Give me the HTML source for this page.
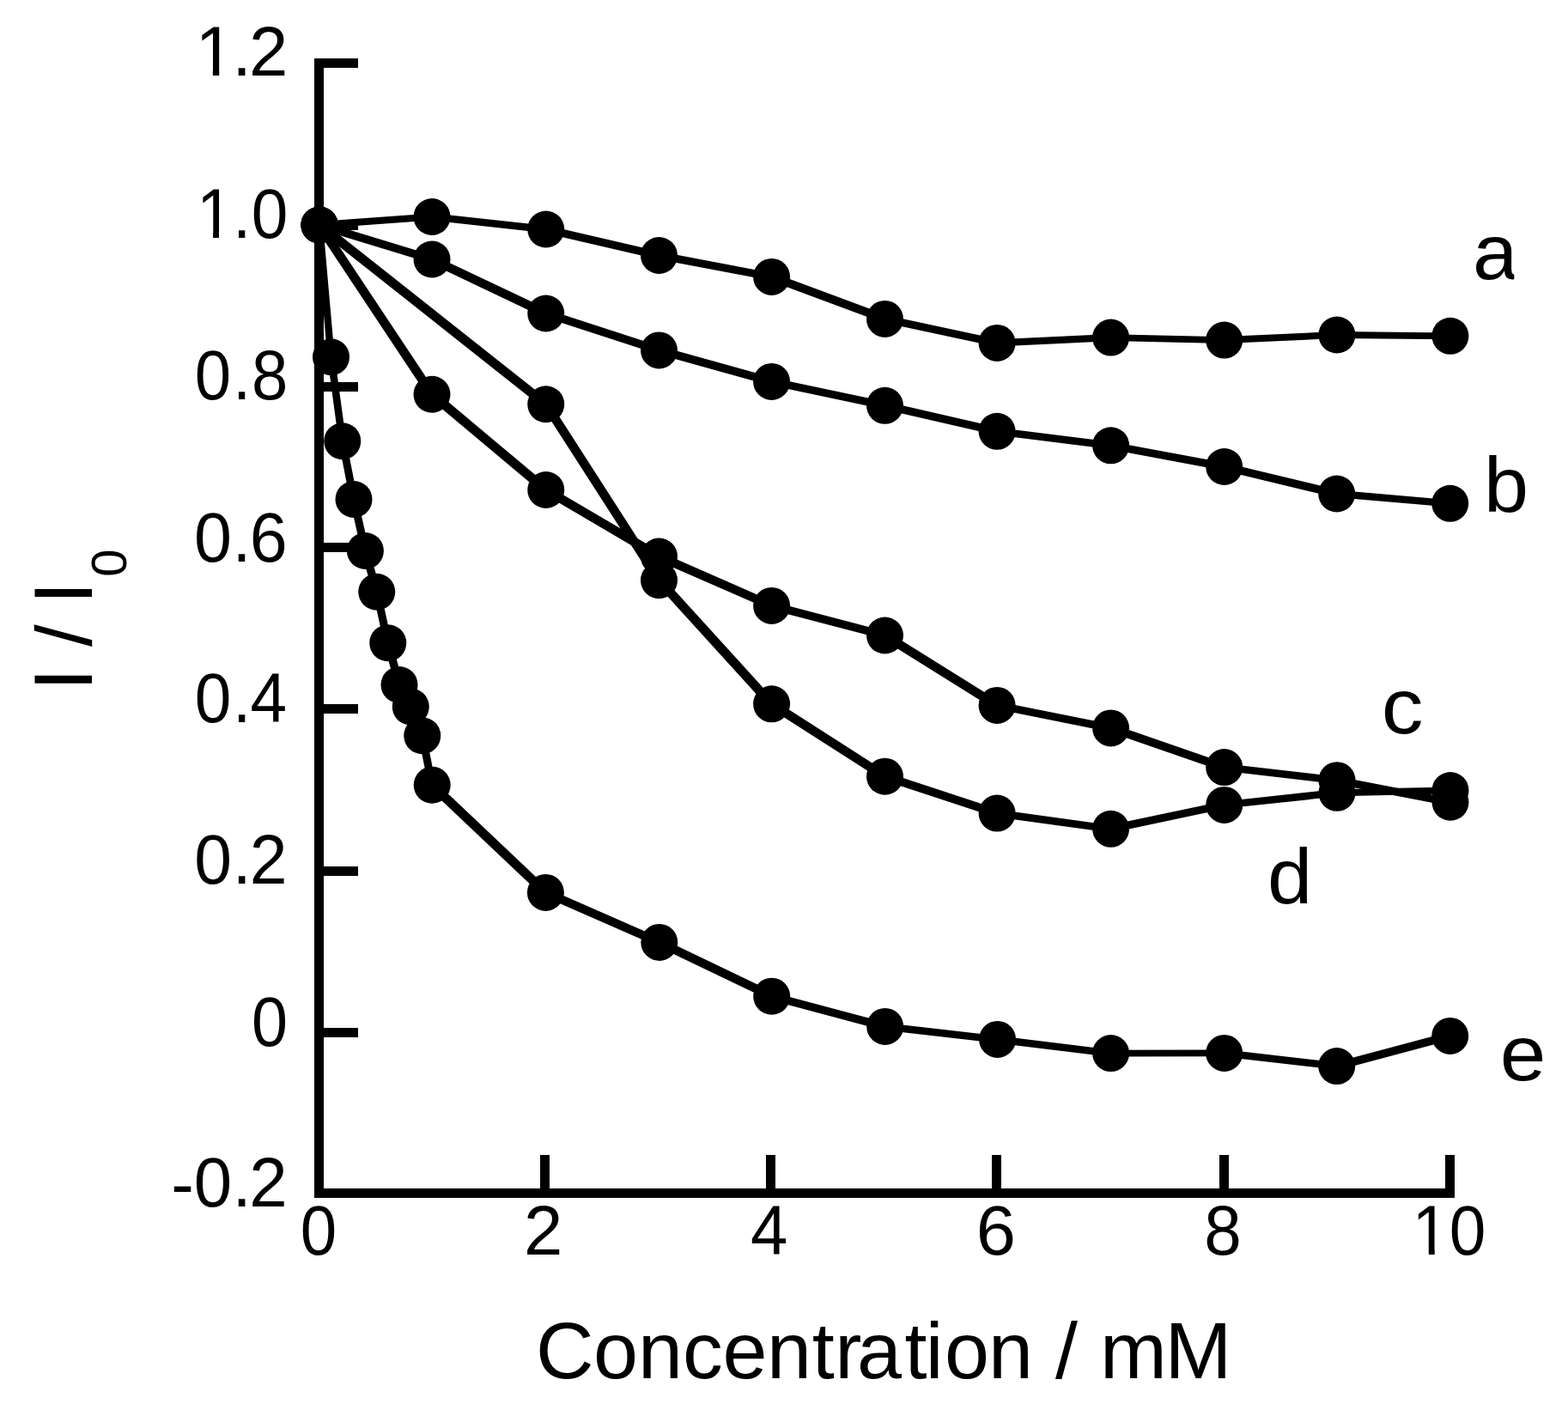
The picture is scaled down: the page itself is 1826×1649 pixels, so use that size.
<!DOCTYPE html>
<html lang="en">
<head>
<meta charset="utf-8">
<title>I / I0 versus Concentration / mM</title>
<style>
html,body{margin:0;padding:0;background:#fff;}
body{width:1826px;height:1649px;overflow:hidden;}
svg{display:block;}
text{font-family:"Liberation Sans", Arial, Helvetica, sans-serif;fill:#000;}
.tick{font-size:81.5px;}
.xtitle{font-size:93.5px;}
.ytitle{font-size:96.6px;}
.lab{font-size:91.2px;}
.sub{font-size:58px;}
.ax{stroke:#000;stroke-width:11;fill:none;stroke-linecap:butt;}
.ln{stroke:#000;fill:none;stroke-linecap:butt;}
.pt circle{fill:#000;}
</style>
</head>
<body>
<svg width="1826" height="1649" viewBox="0 0 1826 1649" role="img" aria-label="I / I0 versus Concentration / mM">
<rect x="0" y="0" width="1826" height="1649" fill="#fff"/>
<defs>
<clipPath id="k12"><rect x="0" y="0" width="1826" height="81.41"/><rect x="247.85" y="80.41" width="7.40" height="20"/><rect x="271.00" y="80.41" width="1555.00" height="20"/></clipPath>
<clipPath id="k10"><rect x="0" y="0" width="1826" height="270.61"/><rect x="248.06" y="269.61" width="6.97" height="20"/><rect x="271.00" y="269.61" width="1555.00" height="20"/></clipPath>
<clipPath id="kx10"><rect x="0" y="0" width="1826" height="1454.41"/><rect x="1663.76" y="1453.41" width="6.97" height="20"/><rect x="1687.00" y="1453.41" width="139.00" height="20"/></clipPath>
<clipPath id="ka"><rect x="1700" y="260" width="63.3" height="80"/></clipPath>
<clipPath id="ky"><rect x="39.8" y="670" width="67.4" height="160"/><rect x="100" y="620" width="60" height="52"/></clipPath>
</defs>
<g class="ax">
<path d="M371.5 68 V1395"/>
<path d="M366 1389.5 H1694"/>
<path d="M371.5 73.5 H417"/>
<path d="M371.5 262.5 H417"/>
<path d="M371.5 450.5 H417"/>
<path d="M371.5 637.5 H417"/>
<path d="M371.5 825.5 H417"/>
<path d="M371.5 1014.5 H417"/>
<path d="M371.5 1202.5 H417"/>
<path d="M634.5 1345 V1389.5"/>
<path d="M897.5 1345 V1389.5"/>
<path d="M1160.5 1345 V1389.5"/>
<path d="M1425.5 1345 V1389.5"/>
<path d="M1688.5 1345 V1389.5"/>
</g>
<g class="tick">
<g clip-path="url(#k12)"><text transform="scale(1.000 1)" x="227.45 270.28 289.89" y="87.8">1.2</text></g>
<g clip-path="url(#k10)"><text transform="scale(0.940 1)" x="243.51 288.25 311.49" y="277">1.0</text></g>
<text transform="scale(0.935 1)" x="242.66 289.85 313.27" y="464.9">0.8</text>
<text transform="scale(0.970 1)" x="233.09 278.99 299.82" y="653.9">0.6</text>
<text transform="scale(0.940 1)" x="241.25 288.25 310.13" y="840.8">0.4</text>
<text transform="scale(0.965 1)" x="234.41 280.49 301.22" y="1028.9">0.2</text>
<text transform="scale(0.927 1)" x="316.17" y="1218">0</text>
<text transform="scale(0.980 1)" x="203.27 230.48 276.03 296.27" y="1406.6 1405.1">-0.2</text>
<text transform="scale(0.937 1)" x="373.28" y="1460.8">0</text>
<text transform="scale(1.000 1)" x="609.94" y="1460.8">2</text>
<text transform="scale(0.957 1)" x="913.28" y="1460.8">4</text>
<text transform="scale(1.020 1)" x="1114.41" y="1460.8">6</text>
<text transform="scale(0.960 1)" x="1460.62" y="1460.8">8</text>
<g clip-path="url(#kx10)"><text transform="scale(0.940 1)" x="1749.57 1795.58" y="1460.8">10</text></g>
</g>
<text class="xtitle" x="624.10 691.05 742.88 794.97 841.59 893.03 945.70 972.25 998.01 1053.60 1077.64 1100.05 1150.98 1202.98 1229.06 1255.04 1281.03 1356.61" y="1604.9">Concentration / mM</text>
<g clip-path="url(#ky)"><text class="ytitle" transform="translate(107 0) rotate(-90)" x="-804.87 -778.03 -753.27 -726.43 -703.97" y="0">I / I<tspan class="sub" x="-671.63" dy="40">0</tspan></text></g>
<g id="series-a">
<g class="ln"><line x1="372" y1="262" x2="503" y2="252.5" stroke-width="8.24"/><line x1="503" y1="252.5" x2="635.75" y2="267" stroke-width="8.49"/><line x1="635.75" y1="267" x2="767.5" y2="297.5" stroke-width="9.24"/><line x1="767.5" y1="297.5" x2="898.6" y2="322.4" stroke-width="9.00"/><line x1="898.6" y1="322.4" x2="1030.5" y2="371.4" stroke-width="9.90"/><line x1="1030.5" y1="371.4" x2="1161.1" y2="399.4" stroke-width="9.14"/><line x1="1161.1" y1="399.4" x2="1293.6" y2="393.1" stroke-width="8.06"/><line x1="1293.6" y1="393.1" x2="1425.7" y2="396.1" stroke-width="7.87"/><line x1="1425.7" y1="396.1" x2="1556.9" y2="390" stroke-width="8.05"/><line x1="1556.9" y1="390" x2="1688.9" y2="391.3" stroke-width="7.78"/></g>
<g class="pt"><circle cx="372" cy="262" r="21.5"/><circle cx="503" cy="252.5" r="21.5"/><circle cx="635.75" cy="267" r="21.5"/><circle cx="767.5" cy="297.5" r="21.5"/><circle cx="898.6" cy="322.4" r="21.5"/><circle cx="1030.5" cy="371.4" r="21.5"/><circle cx="1161.1" cy="399.4" r="21.5"/><circle cx="1293.6" cy="393.1" r="21.5"/><circle cx="1425.7" cy="396.1" r="21.5"/><circle cx="1556.9" cy="390" r="21.5"/><circle cx="1688.9" cy="391.3" r="21.5"/></g>
</g>
<g id="series-b">
<g class="ln"><line x1="372" y1="262" x2="503" y2="302" stroke-width="9.61"/><line x1="503" y1="302" x2="635.75" y2="365" stroke-width="10.26"/><line x1="635.75" y1="365" x2="767.5" y2="407.9" stroke-width="9.71"/><line x1="767.5" y1="407.9" x2="898.6" y2="444.4" stroke-width="9.48"/><line x1="898.6" y1="444.4" x2="1030.5" y2="472.3" stroke-width="9.13"/><line x1="1030.5" y1="472.3" x2="1161.1" y2="502.3" stroke-width="9.23"/><line x1="1161.1" y1="502.3" x2="1293.6" y2="518.8" stroke-width="8.59"/><line x1="1293.6" y1="518.8" x2="1425.7" y2="543.5" stroke-width="8.98"/><line x1="1425.7" y1="543.5" x2="1556.7" y2="575" stroke-width="9.29"/><line x1="1556.7" y1="575" x2="1688.7" y2="586.3" stroke-width="8.33"/></g>
<g class="pt"><circle cx="372" cy="262" r="21.5"/><circle cx="503" cy="302" r="21.5"/><circle cx="635.75" cy="365" r="21.5"/><circle cx="767.5" cy="407.9" r="21.5"/><circle cx="898.6" cy="444.4" r="21.5"/><circle cx="1030.5" cy="472.3" r="21.5"/><circle cx="1161.1" cy="502.3" r="21.5"/><circle cx="1293.6" cy="518.8" r="21.5"/><circle cx="1425.7" cy="543.5" r="21.5"/><circle cx="1556.7" cy="575" r="21.5"/><circle cx="1688.7" cy="586.3" r="21.5"/></g>
</g>
<g id="series-c">
<g class="ln"><line x1="372" y1="262" x2="503" y2="459.25" stroke-width="10.67"/><line x1="503" y1="459.25" x2="635.75" y2="570.5" stroke-width="10.85"/><line x1="635.75" y1="570.5" x2="767.5" y2="648" stroke-width="10.54"/><line x1="767.5" y1="648" x2="898.6" y2="705.4" stroke-width="10.14"/><line x1="898.6" y1="705.4" x2="1030.5" y2="740" stroke-width="9.40"/><line x1="1030.5" y1="740" x2="1161.1" y2="821.4" stroke-width="10.61"/><line x1="1161.1" y1="821.4" x2="1293.6" y2="847.9" stroke-width="9.06"/><line x1="1293.6" y1="847.9" x2="1425.7" y2="893.6" stroke-width="9.79"/><line x1="1425.7" y1="893.6" x2="1557" y2="908.7" stroke-width="8.53"/><line x1="1557" y1="908.7" x2="1689" y2="934.2" stroke-width="9.02"/></g>
<g class="pt"><circle cx="372" cy="262" r="21.5"/><circle cx="503" cy="459.25" r="21.5"/><circle cx="635.75" cy="570.5" r="21.5"/><circle cx="767.5" cy="648" r="21.5"/><circle cx="898.6" cy="705.4" r="21.5"/><circle cx="1030.5" cy="740" r="21.5"/><circle cx="1161.1" cy="821.4" r="21.5"/><circle cx="1293.6" cy="847.9" r="21.5"/><circle cx="1425.7" cy="893.6" r="21.5"/><circle cx="1557" cy="908.7" r="21.5"/><circle cx="1689" cy="934.2" r="21.5"/></g>
</g>
<g id="series-d">
<g class="ln"><line x1="372" y1="262" x2="635.75" y2="470.75" stroke-width="10.82"/><line x1="635.75" y1="470.75" x2="767.5" y2="675.7" stroke-width="10.64"/><line x1="767.5" y1="675.7" x2="898.6" y2="819.8" stroke-width="10.88"/><line x1="898.6" y1="819.8" x2="1030.5" y2="904.2" stroke-width="10.64"/><line x1="1030.5" y1="904.2" x2="1161.1" y2="947.1" stroke-width="9.72"/><line x1="1161.1" y1="947.1" x2="1293.6" y2="965.3" stroke-width="8.68"/><line x1="1293.6" y1="965.3" x2="1425.7" y2="937.4" stroke-width="9.12"/><line x1="1425.7" y1="937.4" x2="1557" y2="923.3" stroke-width="8.48"/><line x1="1557" y1="923.3" x2="1689" y2="920.5" stroke-width="7.86"/></g>
<g class="pt"><circle cx="372" cy="262" r="21.5"/><circle cx="635.75" cy="470.75" r="21.5"/><circle cx="767.5" cy="675.7" r="21.5"/><circle cx="898.6" cy="819.8" r="21.5"/><circle cx="1030.5" cy="904.2" r="21.5"/><circle cx="1161.1" cy="947.1" r="21.5"/><circle cx="1293.6" cy="965.3" r="21.5"/><circle cx="1425.7" cy="937.4" r="21.5"/><circle cx="1557" cy="923.3" r="21.5"/><circle cx="1689" cy="920.5" r="21.5"/></g>
</g>
<g id="series-e">
<g class="ln"><line x1="372" y1="262" x2="385.5" y2="415.75" stroke-width="8.34"/><line x1="385.5" y1="415.75" x2="398.75" y2="513.75" stroke-width="8.66"/><line x1="398.75" y1="513.75" x2="412" y2="581.5" stroke-width="9.03"/><line x1="412" y1="581.5" x2="425.4" y2="641.5" stroke-width="9.19"/><line x1="425.4" y1="641.5" x2="438.75" y2="689.25" stroke-width="9.49"/><line x1="438.75" y1="689.25" x2="451.75" y2="748.75" stroke-width="9.17"/><line x1="451.75" y1="748.75" x2="465" y2="797.5" stroke-width="9.45"/><line x1="465" y1="797.5" x2="478.25" y2="823" stroke-width="10.38"/><line x1="478.25" y1="823" x2="491.75" y2="856.75" stroke-width="10.01"/><line x1="491.75" y1="856.75" x2="503.2" y2="914.2" stroke-width="9.06"/><line x1="503.2" y1="914.2" x2="635.4" y2="1039.4" stroke-width="10.89"/><line x1="635.4" y1="1039.4" x2="767.8" y2="1097.4" stroke-width="10.14"/><line x1="767.8" y1="1097.4" x2="898.7" y2="1160.2" stroke-width="10.27"/><line x1="898.7" y1="1160.2" x2="1030.7" y2="1195.4" stroke-width="9.42"/><line x1="1030.7" y1="1195.4" x2="1161.6" y2="1210.4" stroke-width="8.53"/><line x1="1161.6" y1="1210.4" x2="1293.6" y2="1226.6" stroke-width="8.58"/><line x1="1293.6" y1="1226.6" x2="1425.7" y2="1226.4" stroke-width="7.71"/><line x1="1425.7" y1="1226.4" x2="1556.7" y2="1241.6" stroke-width="8.54"/><line x1="1556.7" y1="1241.6" x2="1688.7" y2="1206.4" stroke-width="9.42"/></g>
<g class="pt"><circle cx="372" cy="262" r="21.5"/><circle cx="385.5" cy="415.75" r="21.5"/><circle cx="398.75" cy="513.75" r="21.5"/><circle cx="412" cy="581.5" r="21.5"/><circle cx="425.4" cy="641.5" r="21.5"/><circle cx="438.75" cy="689.25" r="21.5"/><circle cx="451.75" cy="748.75" r="21.5"/><circle cx="465" cy="797.5" r="21.5"/><circle cx="478.25" cy="823" r="21.5"/><circle cx="491.75" cy="856.75" r="21.5"/><circle cx="503.2" cy="914.2" r="21.5"/><circle cx="635.4" cy="1039.4" r="21.5"/><circle cx="767.8" cy="1097.4" r="21.5"/><circle cx="898.7" cy="1160.2" r="21.5"/><circle cx="1030.7" cy="1195.4" r="21.5"/><circle cx="1161.6" cy="1210.4" r="21.5"/><circle cx="1293.6" cy="1226.6" r="21.5"/><circle cx="1425.7" cy="1226.4" r="21.5"/><circle cx="1556.7" cy="1241.6" r="21.5"/><circle cx="1688.7" cy="1206.4" r="21.5"/></g>
</g>
<g class="lab">
<g clip-path="url(#ka)"><text transform="translate(1718.9 325.06) scale(1.035 1)" x="-3.87" y="0">a</text></g>
<text transform="translate(1754.95 596.08) scale(1.026 1)" x="-26.38" y="0">b</text>
<text transform="translate(1633.90 854.17) scale(1.068 1)" x="-23.53" y="0">c</text>
<text transform="translate(1501.00 1052.10) scale(1.029 1)" x="-24.34" y="0">d</text>
<text transform="translate(1773.50 1258.00) scale(1.056 1)" x="-25.27" y="0">e</text>
</g>
</svg>
</body>
</html>
